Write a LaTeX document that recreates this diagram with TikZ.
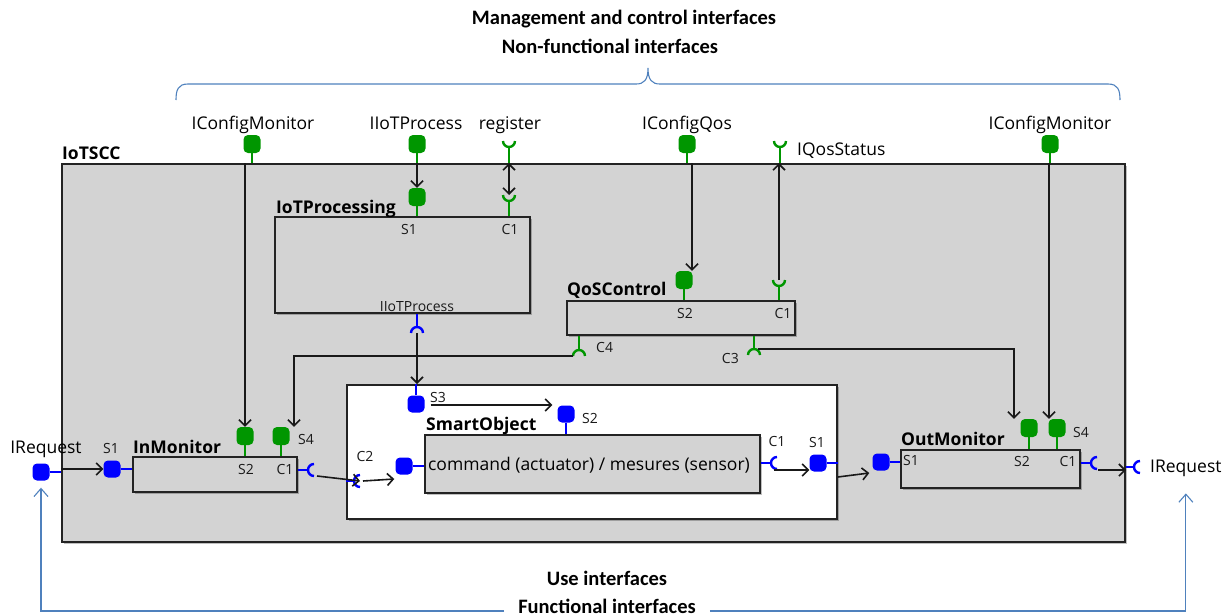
\documentclass[tikz,border=0pt]{standalone}
\usepackage{fontspec}
\usetikzlibrary{arrows.meta,calc,shadows}
\newfontfamily\segf{Open Sans}
\newfontfamily\calf{Carlito}
\definecolor{pgreen}{RGB}{0,150,0}
\definecolor{pblue}{RGB}{0,0,255}
\definecolor{bgray}{RGB}{211,211,211}
\definecolor{lblue}{RGB}{79,129,189}
\definecolor{bdr}{RGB}{35,35,35}
% receptacle (cup) shapes; #1 style, #2 centre coordinate
\newcommand\cupU[2]{\draw[#1] ($(#2)+(-6,0)$) .. controls ($(#2)+(-6,3.3)$) and ($(#2)+(-3.3,6)$) .. ($(#2)+(0,6)$) .. controls ($(#2)+(3.3,6)$) and ($(#2)+(6,3.3)$) .. ($(#2)+(6,0)$);}
\newcommand\cupN[2]{\draw[#1] ($(#2)+(-6,0)$) .. controls ($(#2)+(-6,-3.3)$) and ($(#2)+(-3.3,-6)$) .. ($(#2)+(0,-6)$) .. controls ($(#2)+(3.3,-6)$) and ($(#2)+(6,-3.3)$) .. ($(#2)+(6,0)$);}
\newcommand\cupC[2]{\draw[#1] ($(#2)+(0,-6)$) .. controls ($(#2)+(-3.3,-6)$) and ($(#2)+(-6,-3.3)$) .. ($(#2)+(-6,0)$) .. controls ($(#2)+(-6,3.3)$) and ($(#2)+(-3.3,6)$) .. ($(#2)+(0,6)$);}
\tikzset{
  gport/.style={fill=pgreen, rounded corners=4.5pt, minimum width=17pt, minimum height=18pt, inner sep=0pt},
  bport/.style={fill=pblue, rounded corners=4.5pt, minimum width=17pt, minimum height=17pt, inner sep=0pt},
  gstem/.style={draw=pgreen, line width=2.2pt},
  bstem/.style={draw=pblue, line width=2.2pt},
  gcup/.style={draw=pgreen, line width=2.4pt},
  bcup/.style={draw=pblue, line width=2.4pt},
  shad/.style={drop shadow={shadow xshift=2pt, shadow yshift=-2pt, opacity=0.25, fill=black}},
  sccbox/.style={draw=bdr, fill=bgray, line width=2pt, inner sep=0pt, anchor=north west, shad},
  cbox/.style={draw=bdr, fill=bgray, line width=1.8pt, inner sep=0pt, anchor=north west, shad},
  wbox/.style={draw=bdr, fill=white, line width=1.8pt, inner sep=0pt, anchor=north west, shad},
  big/.style={font=\segf\fontsize{17.5}{19}\selectfont, inner sep=0pt, text=black},
  small/.style={font=\segf\fontsize{14}{16}\selectfont, inner sep=0pt, text=black!90},
  ttl/.style={font=\segf\bfseries\fontsize{17.5}{19}\selectfont, inner sep=0pt},
  ann/.style={font=\calf\bfseries\fontsize{20.5}{22}\selectfont, inner sep=0pt},
  conn/.style={draw=black!90, line width=1.6pt, -{Straight Barb[length=6pt,width=12pt]}},
  conntwo/.style={draw=black!90, line width=1.6pt, {Straight Barb[length=6pt,width=12pt]}-{Straight Barb[length=6pt,width=12pt]}},
  barrow/.style={draw=lblue, line width=1.1pt, -{Straight Barb[length=8pt,width=14pt]}},
  brace/.style={draw=lblue, line width=1.1pt},
}
\begin{document}
\begin{tikzpicture}[x=1pt,y=-1pt]
\useasboundingbox (0,0) rectangle (1232,616);

% annotation texts
\node[ann, anchor=base] (tMan) at (624,24) {Management and control interfaces};
\node[ann, anchor=base] (tNon) at (610,53) {Non-functional interfaces};
\node[ann, anchor=base] (tUse) at (607,585) {Use interfaces};
\node[ann, anchor=base] (func) at (607,613) {Functional interfaces};
\draw[brace] (176,100) .. controls (176,90) and (178,84) .. (188,84) -- (636,84) .. controls (644,84) and (648,80) .. (648,68) .. controls (648,80) and (652,84) .. (660,84) -- (1108,84) .. controls (1118,84) and (1120,90) .. (1120,100);

% main container
\node[sccbox, minimum width=1063pt, minimum height=378pt] (scc) at (61,163) {};
\node[ttl, anchor=base west] (lSCC) at (62,159) {IoTSCC};

% boxes
\node[cbox, minimum width=255pt, minimum height=96pt] (proc) at (274,216) {};
\node[cbox, minimum width=228pt, minimum height=34pt] (qos) at (566,300) {};
\node[wbox, minimum width=490pt, minimum height=134pt] (so) at (346,384) {};
\node[cbox, minimum width=335pt, minimum height=58pt] (inner) at (424,434) {};
\node[cbox, minimum width=164pt, minimum height=35pt] (inm) at (132,456) {};
\node[cbox, minimum width=179pt, minimum height=38pt] (outm) at (900,449) {};

\node[ttl, anchor=base west] (lProc) at (276,213) {IoTProcessing};
\node[ttl, anchor=base west] (lQoS) at (567,295) {QoSControl};
\node[ttl, anchor=base west] (lSO) at (426,430) {SmartObject};
\node[ttl, anchor=base west] (lInM) at (133,453) {InMonitor};
\node[ttl, anchor=base west] (lOutM) at (901,445) {OutMonitor};
\node[big, anchor=base] (cmd) at (589,470) {command (actuator) / mesures (sensor)};

% ports
\node[gport] (pICM1) at (252,144) {};
\node[gport] (pIIoT) at (417,144) {};
\node[gport] (pCQ) at (687,144) {};
\node[gport] (pICM2) at (1050,144) {};
\node[gport] (pS1proc) at (417,197) {};
\node[gport] (pS2q) at (684,280) {};
\node[gport] (pS2in) at (245,436) {};
\node[gport] (pS4in) at (281,436) {};
\node[gport] (pS2out) at (1029,428) {};
\node[gport] (pS4out) at (1057,428) {};
\node[bport] (pLReq) at (41,472) {};
\node[bport] (pS1in) at (112,469) {};
\node[bport] (pS3so) at (416,404) {};
\node[bport] (pS2so) at (566,414) {};
\node[bport] (pLso) at (404,466) {};
\node[bport] (pS1so) at (818,463) {};
\node[bport] (pS1out) at (881,462) {};

% port stems
\draw[gstem] (pICM1.south) -- (pICM1 |- scc.north);
\draw[gstem] (pIIoT.south) -- (pIIoT |- scc.north);
\draw[gstem] (pCQ.south) -- (pCQ |- scc.north);
\draw[gstem] (pICM2.south) -- (pICM2 |- scc.north);
\draw[gstem] (pS1proc.south) -- (pS1proc |- proc.north);
\draw[gstem] (pS2q.south) -- (pS2q |- qos.north);
\draw[gstem] (pS2in.south) -- (pS2in |- inm.north);
\draw[gstem] (pS4in.south) -- (pS4in |- inm.north);
\draw[gstem] (pS2out.south) -- (pS2out |- outm.north);
\draw[gstem] (pS4out.south) -- (pS4out |- outm.north);
\draw[bstem] (pLReq.east) -- (pLReq -| scc.west);
\draw[bstem] (pS1in.east) -- (pS1in -| inm.west);
\draw[bstem] (pS3so.north) -- (pS3so |- so.north);
\draw[bstem] (pS2so.south) -- (pS2so |- inner.north);
\draw[bstem] (pLso.east) -- (pLso -| inner.west);
\draw[bstem] (pS1so.east) -- (pS1so -| so.east);
\draw[bstem] (pS1out.east) -- (pS1out -| outm.west);

% cups (required interfaces)
\coordinate (cReg) at (509,141);
\coordinate (cQS) at (780,141);
\coordinate (cC1p) at (509,195);
\coordinate (cC1q) at (779,280);
\coordinate (cIIoT) at (417,333);
\coordinate (cC4) at (579,356);
\coordinate (cC3) at (754,355);
\coordinate (cC1in) at (314,470);
\coordinate (cC2) at (360,481);
\coordinate (cC1so) at (777,463);
\coordinate (cC1out) at (1097,463);
\coordinate (cRReq) at (1140,467);

\cupU{gcup}{cReg}  \draw[gstem] ($(cReg)+(0,6)$) -- (cReg |- scc.north);
\cupU{gcup}{cQS}   \draw[gstem] ($(cQS)+(0,6)$) -- (cQS |- scc.north);
\cupU{gcup}{cC1p}  \draw[gstem] ($(cC1p)+(0,6)$) -- (cC1p |- proc.north);
\cupU{gcup}{cC1q}  \draw[gstem] ($(cC1q)+(0,6)$) -- (cC1q |- qos.north);
\cupN{bcup}{cIIoT} \draw[bstem] ($(cIIoT)+(0,-6)$) -- (cIIoT |- proc.south);
\cupN{gcup}{cC4}   \draw[gstem] ($(cC4)+(0,-6)$) -- (cC4 |- qos.south);
\cupN{gcup}{cC3}   \draw[gstem] ($(cC3)+(0,-6)$) -- (cC3 |- qos.south);
\cupC{bcup}{cC1in} \draw[bstem] ($(cC1in)+(-6,0)$) -- (cC1in -| inm.east);
\cupC{bcup}{cC2}   \draw[bstem] ($(cC2)+(-6,0)$) -- (cC2 -| so.west);
\cupC{bcup}{cC1so} \draw[bstem] ($(cC1so)+(-6,0)$) -- (cC1so -| inner.east);
\cupC{bcup}{cC1out}\draw[bstem] ($(cC1out)+(-6,0)$) -- (cC1out -| outm.east);
\cupC{bcup}{cRReq} \draw[bstem] ($(cRReq)+(-6,0)$) -- (cRReq -| scc.east);

% labels
\node[big, anchor=base] (lICM1) at (253,129) {IConfigMonitor};
\node[big, anchor=base] (lIIoT) at (416,129) {IIoTProcess};
\node[big, anchor=base] (lReg) at (510,129) {register};
\node[big, anchor=base] (lCQ) at (687,129) {IConfigQos};
\node[big, anchor=base west] (lQS) at (797,155) {IQosStatus};
\node[big, anchor=base] (lICM2) at (1050,129) {IConfigMonitor};
\node[big, anchor=base] (lLReq) at (46,453) {IRequest};
\node[big, anchor=base west] (rreq) at (1150,472) {IRequest};

\node[small, anchor=base] (lS1p) at (409,234) {S1};
\node[small, anchor=base] (lC1p) at (510,234) {C1};
\node[small, anchor=base] (lIIoTb) at (417,311) {IIoTProcess};
\node[small, anchor=base] (lS2q) at (685,318) {S2};
\node[small, anchor=base] (lC1q) at (783,318) {C1};
\node[small, anchor=base west] (lC4) at (596,352) {C4};
\node[small, anchor=base east] (lC3) at (739,363) {C3};
\node[small, anchor=base] (lS2in) at (246,474) {S2};
\node[small, anchor=base] (lC1in) at (285,474) {C1};
\node[small, anchor=base west] (lS4in) at (298,444) {S4};
\node[small, anchor=base] (lS1in) at (111,453) {S1};
\node[small, anchor=base west] (lS3) at (430,402) {S3};
\node[small, anchor=base west] (lS2so) at (582,423) {S2};
\node[small, anchor=base] (lC2) at (365,461) {C2};
\node[small, anchor=base] (lC1so) at (777,446) {C1};
\node[small, anchor=base] (lS1so) at (817,447) {S1};
\node[small, anchor=base west] (lS1out) at (903,465) {S1};
\node[small, anchor=base] (lS2out) at (1022,466) {S2};
\node[small, anchor=base] (lC1out) at (1068,466) {C1};
\node[small, anchor=base west] (lS4out) at (1073,437) {S4};

% connectors
\coordinate (a4) at ($(pS2q.north)+(8,0)$);
\coordinate (a6) at ($(pS4in.north)+(13,0)$);
\coordinate (a7) at ($(pS2out.north)+(-15,0)$);
\coordinate (a8) at ($(pS4out.north)+(-8,0)$);
\coordinate (a10) at ($(pS2so.west |- pS3so.east)+(-5,1)$);
\coordinate (a14) at ($(pS1so)+(0,14)$);

\draw[conn] (pS2in |- scc.north) -- (pS2in.north);
\draw[conn] (pS1proc |- scc.north) -- (pS1proc.north);
\draw[conntwo] (cReg |- scc.north) -- (cC1p);
\draw[conn] (a4 |- scc.north) -- (a4);
\draw[conn] (cC1q) -- (cC1q |- scc.north);
\draw[conn] ($(cC4)+(-6,0)$) -| (a6);
\draw[conn] ($(cC3)+(4,-6)$) -| (a7);
\draw[conn] (a8 |- scc.north) -- (a8);
\draw[conn] (cIIoT) -- (cIIoT |- so.north);
\draw[conn] ($(pS3so.east)+(6,1)$) -- (a10);
\draw[conn] ($(cC1in)+(3,6)$) -- (cC2);
\draw[conn] ($(cC2)+(3,0)$) -- ($(pLso.west)+(-1,13)$);
\draw[conn] ($(cC1so)+(-3,7)$) -- ($(pS1so.west)+(0,7)$);
\draw[conn] (a14 -| so.east) -- ($(pS1out.west)+(-3,11)$);
\draw[conn] ($(cC1out)+(1,7)$) -- ($(cC1out -| scc.east)+(0,7)$);
\draw[conn] (pS1in -| scc.west) -- (pS1in.west);

% functional interfaces arrows
\coordinate (bl) at (41,611);
\coordinate (br) at (1188,611);
\draw[barrow, shorten <=14pt] (func.west |- bl) -- (bl) -- ($(pLReq.south)+(0,7)$);
\draw[barrow, shorten <=14pt] (func.east |- br) -| ($(rreq.south)+(0,17)$);
\end{tikzpicture}
\end{document}
